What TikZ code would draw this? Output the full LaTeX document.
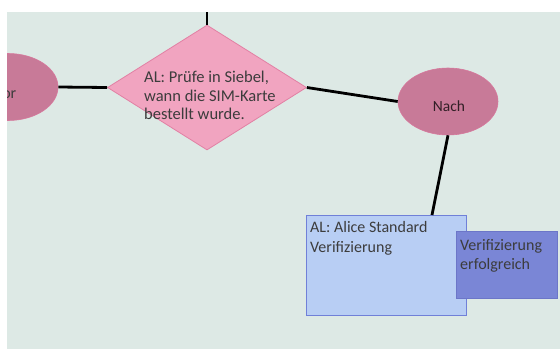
\documentclass[tikz,border=0pt]{standalone}
\usepackage{fontspec}
\setmainfont{Carlito}
\usetikzlibrary{shapes.geometric}
\definecolor{bgc}{RGB}{221,233,229}
\definecolor{dfill}{RGB}{241,164,192}
\definecolor{ddraw}{RGB}{226,128,164}
\definecolor{efill}{RGB}{200,122,152}
\definecolor{edraw}{RGB}{214,120,156}
\definecolor{bfill}{RGB}{184,206,244}
\definecolor{bdraw}{RGB}{112,128,216}
\definecolor{pfill}{RGB}{122,134,214}
\definecolor{pdraw}{RGB}{108,118,200}
\definecolor{txt}{RGB}{60,60,60}
\tikzset{
  conn/.style={line width=2.8pt, black},
  ell/.style={ellipse, fill=efill, draw=edraw, line width=0.6pt, minimum width=100pt, minimum height=67pt, inner sep=0pt},
  dia/.style={diamond, fill=dfill, draw=ddraw, line width=0.8pt, minimum width=199pt, minimum height=125pt, inner sep=0pt},
  lbl/.style={text=txt, align=left, inner sep=0pt, anchor=north west},
}
\begin{document}
\begin{tikzpicture}[x=1pt,y=-1pt]
\useasboundingbox (0,0) rectangle (560,349);
\fill[white] (0,0) rectangle (560,349);
\begin{scope}
\clip (7,12) rectangle (560,349);
\fill[bgc] (7,12) rectangle (560,349);
\coordinate (topend) at (207,0);
\node[dia] (d) at (207,87.5) {};
\node[ell] (l) at (8,87) {};
\node[text=txt, font=\fontsize{16}{19}\selectfont, anchor=base east, inner sep=0pt] (ltext) at (16.5,98) {Vor};
\node[ell] (n) at (448,101.5) {};
\node[text=black!75!efill, font=\fontsize{15.5}{18}\selectfont, inner sep=0pt] (ntext) at (449,106) {Nach};
\node[rectangle, fill=bfill, draw=bdraw, line width=0.8pt, minimum width=160pt, minimum height=100pt, inner sep=0pt] (b) at (386,265) {};
\node[rectangle, fill=pfill, draw=pdraw, line width=0.6pt, minimum width=101pt, minimum height=67pt, inner sep=0pt] (p) at (506.5,264.5) {};
\draw[conn] (topend) -- (d.north);
\draw[conn] (d.west) -- (l.east);
\draw[conn] (d.east) -- (n.west);
\draw[conn] (n.south) -- (432,215);
\node[lbl, font=\fontsize{16.5}{18.5}\selectfont] (dtext) at (144,71) {AL: Prüfe in Siebel,\\wann die SIM-Karte\\bestellt wurde.};
\node[lbl, font=\fontsize{16}{19.8}\selectfont] (btext) at (310,221) {AL: Alice Standard\\Verifizierung};
\node[lbl, font=\fontsize{16}{19.2}\selectfont] (ptext) at (460,239) {Verifizierung\\erfolgreich};
\end{scope}
\end{tikzpicture}
\end{document}
